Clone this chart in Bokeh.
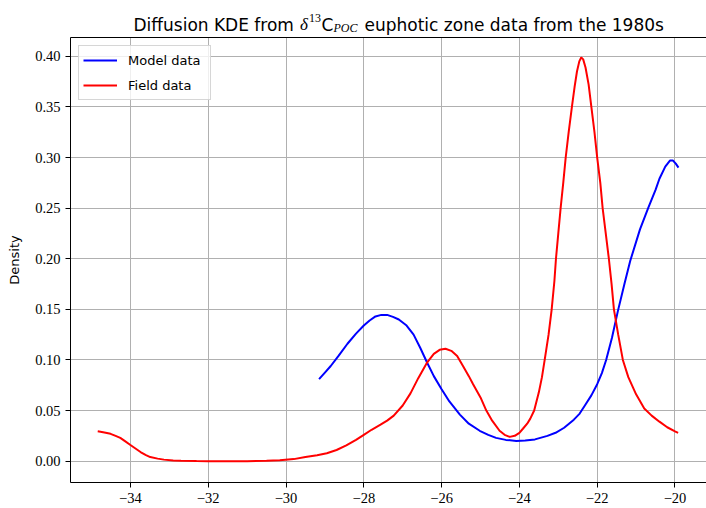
from bokeh.plotting import figure
from bokeh.layouts import column
from bokeh.models import Range1d, FixedTicker, LinearAxis, Label, NumeralTickFormatter
from bokeh.embed import file_html
from bokeh.resources import INLINE

# ---- data ----
model_x = [-29.15, -29.0, -28.85, -28.65, -28.42, -28.2, -28.0, -27.85, -27.7, -27.55,
           -27.4, -27.25, -27.1, -26.9, -26.72, -26.55, -26.38, -26.2, -26.0, -25.8,
           -25.53, -25.3, -25.02, -24.8, -24.6, -24.35, -24.08, -23.85, -23.6, -23.28,
           -23.07, -22.85, -22.6, -22.45, -22.3, -22.15, -22.0, -21.88, -21.77, -21.62,
           -21.47, -21.3, -21.15, -20.9, -20.69, -20.5, -20.4, -20.25, -20.13, -20.05,
           -19.98, -19.91]
model_y = [0.081, 0.0875, 0.094, 0.104, 0.116, 0.126, 0.134, 0.139, 0.143, 0.1445,
           0.1445, 0.1425, 0.140, 0.134, 0.125, 0.112, 0.098, 0.084, 0.071, 0.059,
           0.046, 0.037, 0.030, 0.026, 0.023, 0.021, 0.020, 0.0203, 0.0215, 0.025,
           0.028, 0.033, 0.041, 0.047, 0.056, 0.065, 0.076, 0.087, 0.100, 0.122,
           0.148, 0.175, 0.198, 0.229, 0.250, 0.268, 0.279, 0.291, 0.297, 0.297,
           0.294, 0.290]

field_x = [-34.84, -34.7, -34.51, -34.38, -34.26, -34.13, -34.0, -33.87, -33.74, -33.6,
           -33.49, -33.3, -33.14, -32.9, -32.7, -32.3, -32.0, -31.0, -30.5, -30.16,
           -29.8, -29.5, -29.2, -28.95, -28.7, -28.45, -28.2, -28.0, -27.8, -27.57,
           -27.4, -27.23, -27.0, -26.8, -26.6, -26.38, -26.2, -26.05, -25.9, -25.75,
           -25.6, -25.45, -25.3, -25.19, -25.0, -24.85, -24.7, -24.51, -24.38, -24.25,
           -24.12, -24.0, -23.91, -23.8, -23.72, -23.62, -23.5, -23.42, -23.35, -23.25,
           -23.17, -23.1, -23.06, -23.0, -22.94, -22.87, -22.81, -22.73, -22.65, -22.58,
           -22.52, -22.46, -22.41, -22.36, -22.3, -22.22, -22.15, -22.07, -22.0, -21.92,
           -21.86, -21.78, -21.7, -21.63, -21.57, -21.46, -21.34, -21.2, -21.0, -20.79,
           -20.6, -20.4, -20.2, -20.0, -19.92]
field_y = [0.0295, 0.0285, 0.027, 0.025, 0.023, 0.0195, 0.016, 0.0125, 0.009, 0.006,
           0.004, 0.0025, 0.0015, 0.0007, 0.0003, 0.0001, 0.0, 0.0, 0.0004, 0.001,
           0.002, 0.004, 0.0058, 0.0078, 0.011, 0.0155, 0.021, 0.026, 0.031, 0.036,
           0.040, 0.045, 0.055, 0.067, 0.082, 0.097, 0.106, 0.110, 0.111, 0.109,
           0.104, 0.094, 0.084, 0.076, 0.063, 0.050, 0.040, 0.030, 0.026, 0.024,
           0.025, 0.028, 0.032, 0.037, 0.042, 0.050, 0.068, 0.083, 0.100, 0.125,
           0.150, 0.178, 0.200, 0.225, 0.250, 0.276, 0.300, 0.326, 0.350, 0.370,
           0.385, 0.395, 0.399, 0.397, 0.389, 0.372, 0.350, 0.325, 0.300, 0.275,
           0.250, 0.225, 0.200, 0.175, 0.150, 0.125, 0.100, 0.083, 0.066, 0.052,
           0.045, 0.039, 0.0335, 0.0295, 0.028]

x_ticks = [-34, -32, -30, -28, -26, -24, -22, -20]
x_tick_labels = ["\u221234", "\u221232", "\u221230", "\u221228", "\u221226", "\u221224", "\u221222", "\u221220"]
y_ticks = [0.0, 0.05, 0.1, 0.15, 0.2, 0.25, 0.3, 0.35, 0.4]

series_names = ["Model data", "Field data"]
y_label = "Density"

FL = 70  # left edge of the plotting area on the page (both strips share it)

# ---- title strip ----
TITLE_H = 36
t = figure(width=706, height=TITLE_H, output_backend="svg", toolbar_location=None,
           x_axis_type=None, y_axis_type=None,
           x_range=Range1d(0, 706), y_range=Range1d(0, TITLE_H),
           min_border_left=FL, min_border_right=0, min_border_top=0, min_border_bottom=0)
t.grid.visible = False
t.outline_line_color = None
t.border_fill_color = "white"
t.background_fill_color = "white"

BASE = 12   # baseline, pixels above the strip bottom
pieces = [
    (133, "Diffusion KDE from ", "DejaVu Sans", "17px", "normal", 0),
    (299.5, "\u03b4", "Liberation Serif", "17px", "italic", 0),
    (308.5, "13", "Liberation Serif", "12px", "normal", 7),
    (321, "C", "DejaVu Sans", "17px", "normal", 0),
    (333, "POC", "Liberation Serif", "12px", "italic", -3.5),
    (364, " euphotic zone data from the 1980s", "DejaVu Sans", "17px", "normal", 0),
]
for cx, txt, font, size, style, dy in pieces:
    t.add_layout(Label(x=cx - FL, y=BASE + dy, x_units="screen", y_units="screen", text=txt,
                       text_font=font, text_font_size=size, text_font_style=style,
                       text_color="black", text_align="left", text_baseline="alphabetic"))

# ---- main figure ----
p = figure(width=706, height=508 - TITLE_H, output_backend="svg", toolbar_location=None,
           x_range=Range1d(-35.54, -19.19), y_range=Range1d(-0.0211, 0.4186),
           min_border_left=FL, min_border_right=0, min_border_top=1, min_border_bottom=26)
p.outline_line_color = None
p.background_fill_color = "white"
p.border_fill_color = "white"

p.xaxis.ticker = FixedTicker(ticks=x_ticks)
p.xaxis.major_label_overrides = dict(zip(x_ticks, x_tick_labels))
p.yaxis.ticker = FixedTicker(ticks=y_ticks)
p.yaxis.formatter = NumeralTickFormatter(format="0.00")

for ax in (p.xaxis[0], p.yaxis[0]):
    ax.axis_line_color = "black"
    ax.axis_line_width = 1
    ax.major_tick_line_color = "black"
    ax.major_tick_out = 5
    ax.major_tick_in = 0
    ax.minor_tick_line_color = None
    ax.major_label_text_font = "Liberation Serif"
    ax.major_label_text_font_size = "14.5px"
    ax.major_label_text_color = "black"
    ax.major_label_standoff = 5

p.yaxis.axis_label = y_label
p.yaxis.axis_label_text_font = "DejaVu Sans"
p.yaxis.axis_label_text_font_size = "13px"
p.yaxis.axis_label_text_font_style = "normal"
p.yaxis.axis_label_text_color = "black"
p.yaxis.axis_label_standoff = 10

# top spine
top = LinearAxis(ticker=FixedTicker(ticks=[]), axis_line_color="black", axis_line_width=1,
                 major_tick_out=0, major_tick_in=0, minor_tick_line_color=None,
                 major_label_standoff=0)
p.add_layout(top, "above")

for g in (p.xgrid[0], p.ygrid[0]):
    g.grid_line_color = "#b0b0b0"
    g.grid_line_width = 1

p.line(model_x, model_y, line_color="#0000ff", line_width=2, legend_label=series_names[0])
p.line(field_x, field_y, line_color="#ff0000", line_width=2, legend_label=series_names[1])

lg = p.legend[0]
lg.location = "top_left"
lg.margin = 8
lg.padding = 4
lg.spacing = 5
lg.glyph_width = 34
lg.glyph_height = 20
lg.label_height = 20
lg.label_width = 78
lg.label_standoff = 11
lg.label_text_font = "DejaVu Sans"
lg.label_text_font_size = "13px"
lg.label_text_color = "black"
lg.border_line_color = "#cccccc"
lg.border_line_alpha = 0.8
lg.background_fill_alpha = 0.8

layout = column(t, p, spacing=0)
open("out.html", "w").write(file_html(layout, INLINE))
